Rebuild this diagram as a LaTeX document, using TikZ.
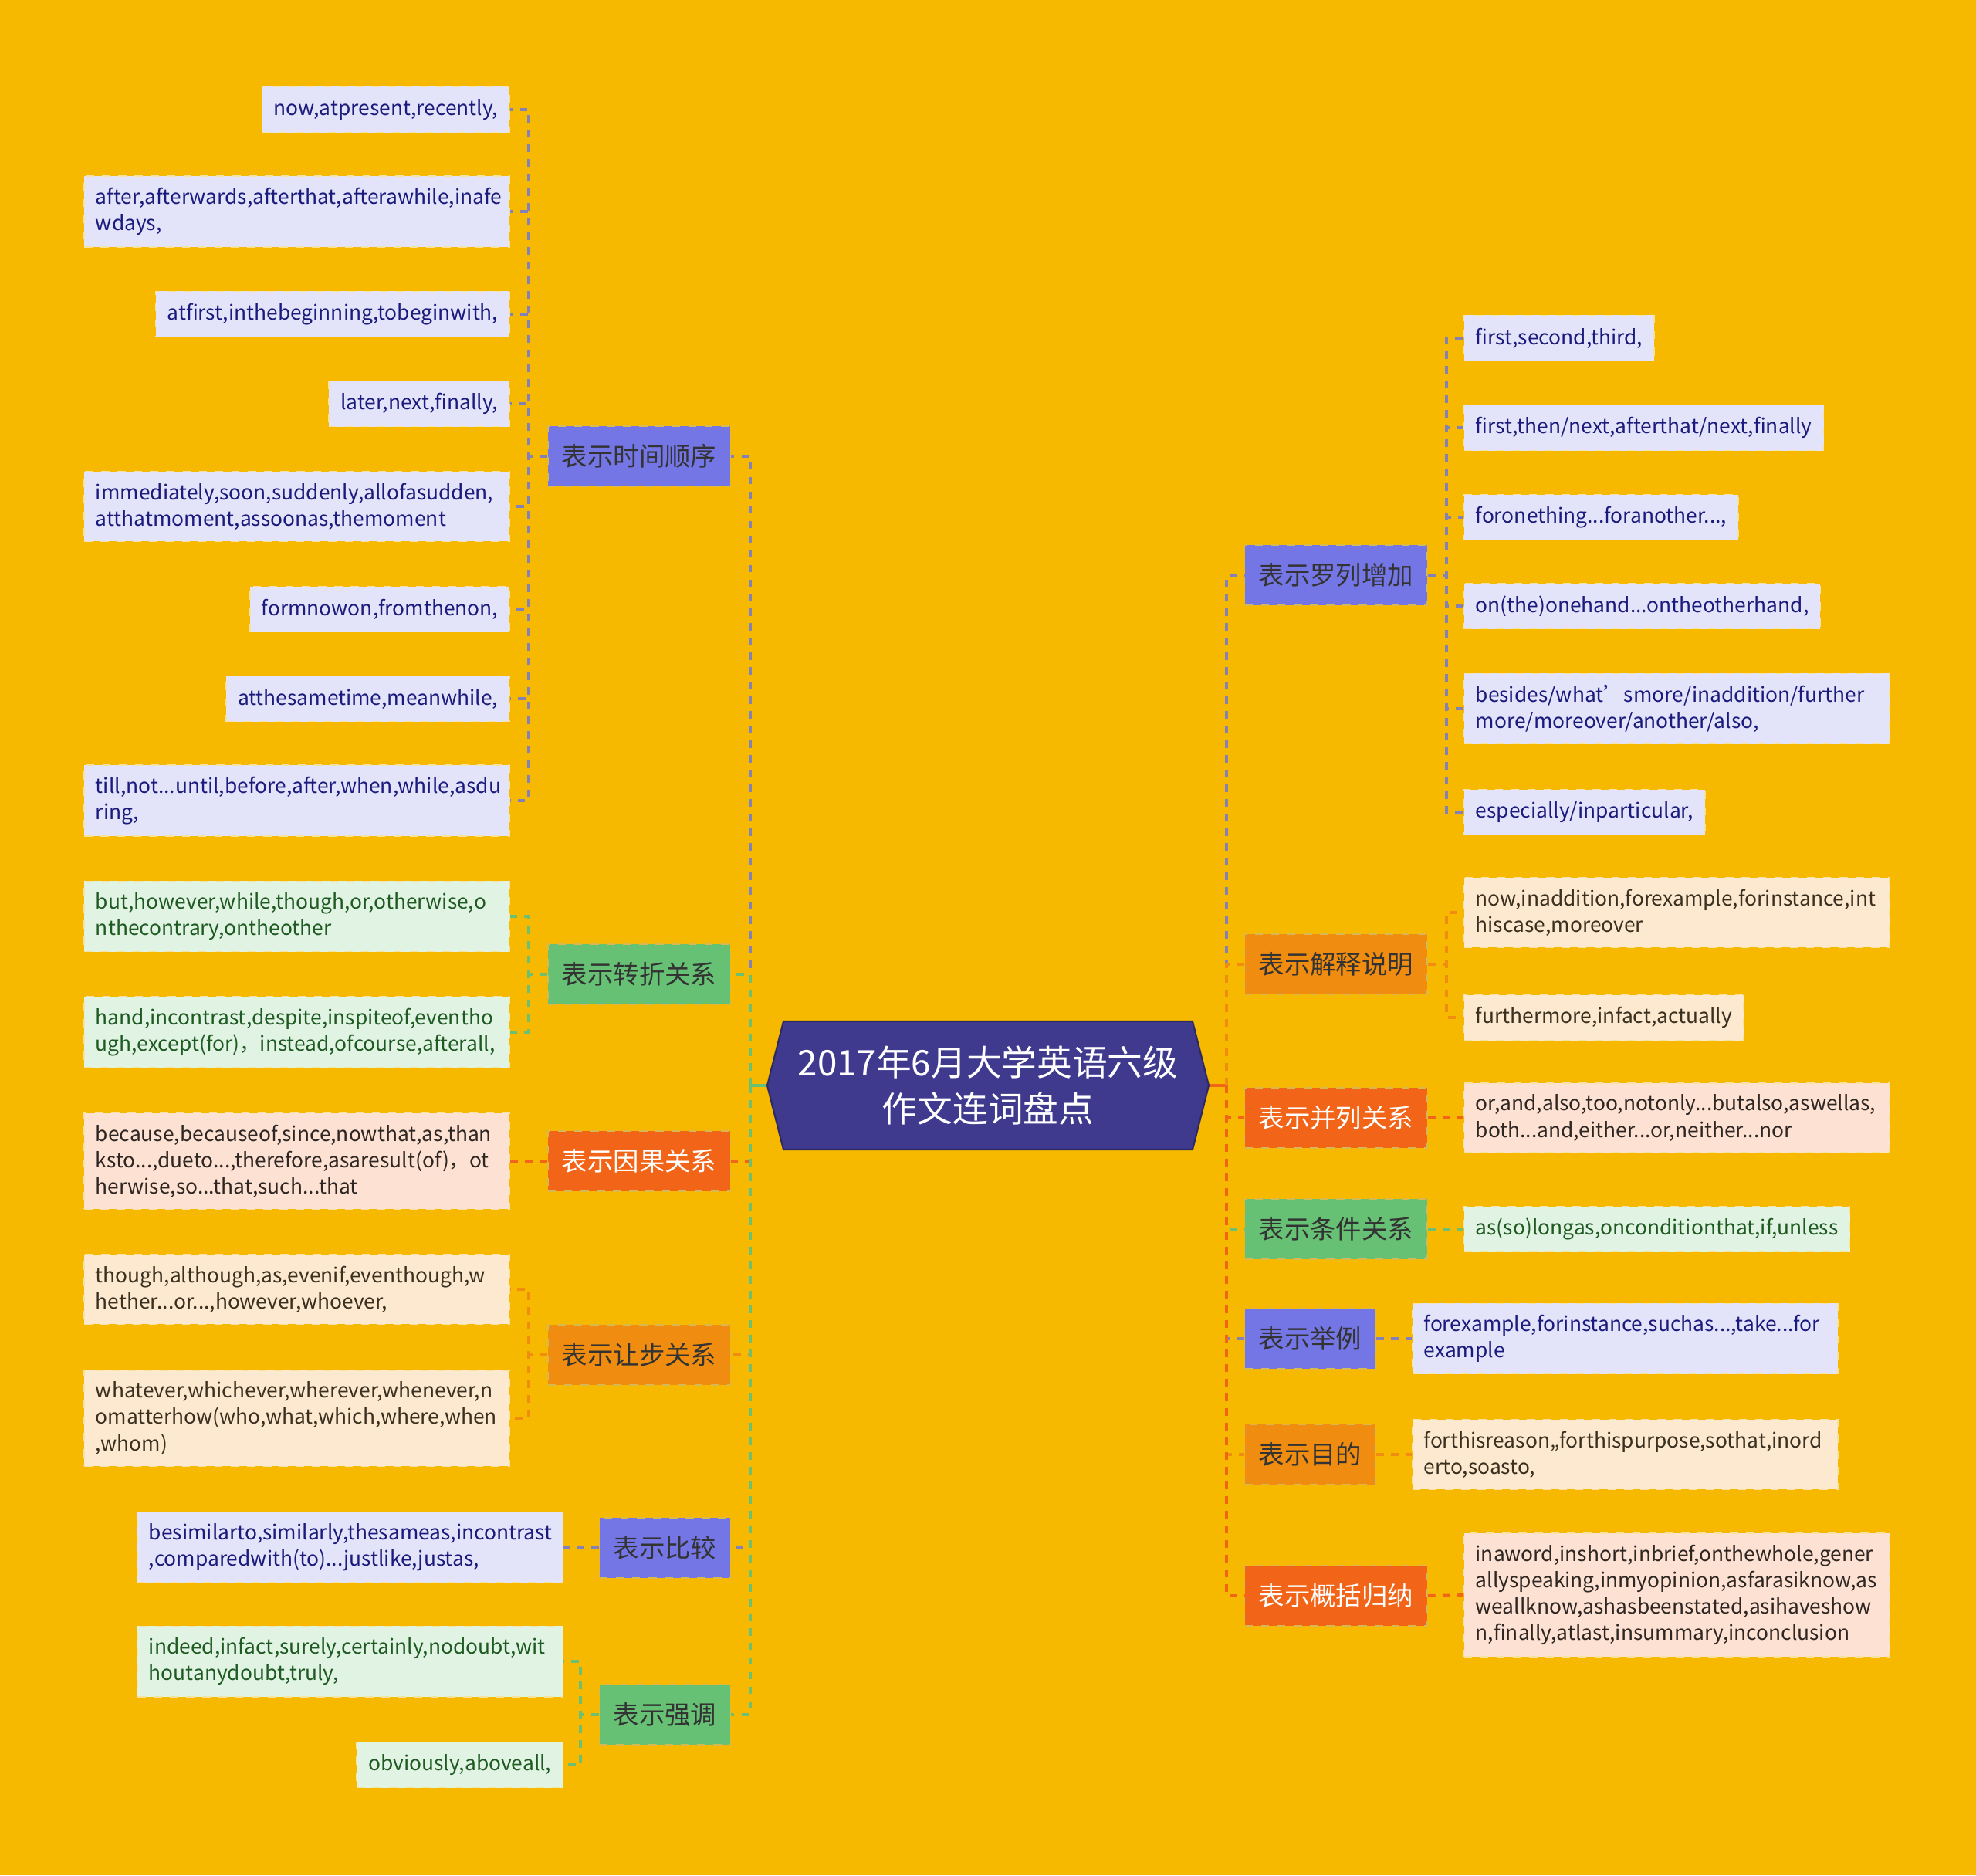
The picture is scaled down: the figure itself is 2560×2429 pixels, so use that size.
\documentclass[tikz,border=0pt]{standalone}
\usepackage{fontspec}
\setmainfont{Noto Sans CJK SC}
\usetikzlibrary{positioning}
\hyphenpenalty=10000
\exhyphenpenalty=10000

\definecolor{bgyellow}{HTML}{F6B900}
\definecolor{rootfill}{HTML}{3F3A8E}
\definecolor{rootline}{HTML}{2C2A60}
\definecolor{topicink}{HTML}{333333}
\definecolor{topicline}{HTML}{D8B850}
\definecolor{leafline}{HTML}{F7E3A1}
% purple branch
\definecolor{lilac}{HTML}{7476E6}
\definecolor{leafLilac}{HTML}{E3E4FA}
\definecolor{inkLilac}{HTML}{1B1B7D}
\definecolor{lineLilac}{HTML}{8282B8}
% green branch
\definecolor{mint}{HTML}{66C175}
\definecolor{leafMint}{HTML}{E1F4E4}
\definecolor{inkMint}{HTML}{1F5A22}
\definecolor{lineMint}{HTML}{6DBF72}
% red branch
\definecolor{flame}{HTML}{F26418}
\definecolor{leafFlame}{HTML}{FDE1D3}
\definecolor{inkFlame}{HTML}{2E2622}
% orange branch
\definecolor{amber}{HTML}{F08C10}
\definecolor{leafAmber}{HTML}{FDE9CF}
\definecolor{inkAmber}{HTML}{3A3020}

\begin{document}
\begin{tikzpicture}[
    x=0.01cm, y=-0.01cm,
    topic/.style={fill=#1, draw=topicline, dashed, line width=0.4pt, minimum height=0.78cm,
      inner xsep=0.18cm, font=\fontsize{9.5}{11}\selectfont, text=topicink},
    ptopic/.style={topic=lilac},
    gtopic/.style={topic=mint},
    rtopic/.style={topic=flame, text=white},
    otopic/.style={topic=amber},
    leaf/.style={fill=#1, draw=leafline, dashed, line width=0.4pt, minimum height=0.59cm,
      inner xsep=0.15cm, inner ysep=0.15cm, font=\fontsize{7.5}{9.7}\selectfont},
    pleaf/.style={leaf=leafLilac, text=inkLilac},
    gleaf/.style={leaf=leafMint, text=inkMint},
    rleaf/.style={leaf=leafFlame, text=inkFlame},
    oleaf/.style={leaf=leafAmber, text=inkAmber},
    wide/.style={text width=5.21cm, align=left},
    link/.style={draw=#1, line width=1.1pt, dash pattern=on 2.8pt off 2.6pt},
    stem/.style={draw=#1, line width=1.1pt}
  ]
  \useasboundingbox (0,0) rectangle (2560,2429);
  \fill[bgyellow] (0,0) rectangle (2560,2429);

  % Root
  \filldraw[fill=rootfill, draw=rootline, line width=0.6pt]
    (994,1406) -- (1015,1323) -- (1545,1323) -- (1566,1406) -- (1545,1489) -- (1015,1489) -- cycle;
  \node (root) at (1280,1406) [minimum width=5.72cm, minimum height=1.66cm, align=center,
    text=white, font=\fontsize{13}{17}\selectfont] {2017年6月大学英语六级\\作文连词盘点};
  \coordinate (lt) at (972,1406);
  \coordinate (rt) at (1589,1406);

  % Left topics
  \node (time)   [ptopic, anchor=east] at (947,591)  {表示时间顺序};
  \node (turn)   [gtopic, anchor=east] at (947,1262) {表示转折关系};
  \node (cause)  [rtopic, anchor=east] at (947,1504) {表示因果关系};
  \node (yield)  [otopic, anchor=east] at (947,1755) {表示让步关系};
  \node (compar) [ptopic, anchor=east] at (947,2005) {表示比较};
  \node (stress) [gtopic, anchor=east] at (947,2221) {表示强调};

  % Right topics
  \node (list)    [ptopic, anchor=west] at (1612,745)  {表示罗列增加};
  \node (explain) [otopic, anchor=west] at (1612,1249) {表示解释说明};
  \node (paral)   [rtopic, anchor=west] at (1612,1448) {表示并列关系};
  \node (cond)    [gtopic, anchor=west] at (1612,1592) {表示条件关系};
  \node (examp)   [ptopic, anchor=west] at (1612,1734) {表示举例};
  \node (purp)    [otopic, anchor=west] at (1612,1884) {表示目的};
  \node (summ)    [rtopic, anchor=west] at (1612,2067) {表示概括归纳};

  % Time leaves
  \node (t1) [pleaf, anchor=east] at (661,142)  {now,atpresent,recently,};
  \node (t2) [pleaf, wide, anchor=east] at (661,274) {after,afterwards,afterthat,afterawhile,inafe\\wdays,};
  \node (t3) [pleaf, anchor=east] at (661,407)  {atfirst,inthebeginning,tobeginwith,};
  \node (t4) [pleaf, anchor=east] at (661,523)  {later,next,finally,};
  \node (t5) [pleaf, wide, anchor=east] at (661,656) {immediately,soon,suddenly,allofasudden,\\atthatmoment,assoonas,themoment};
  \node (t6) [pleaf, anchor=east] at (661,789)  {formnowon,fromthenon,};
  \node (t7) [pleaf, anchor=east] at (661,905)  {atthesametime,meanwhile,};
  \node (t8) [pleaf, wide, anchor=east] at (661,1037) {till,not...until,before,after,when,while,asdu\\ring,};

  % Turn leaves
  \node (c1) [gleaf, wide, anchor=east] at (661,1187) {but,however,while,though,or,otherwise,o\\nthecontrary,ontheother};
  \node (c2) [gleaf, wide, anchor=east] at (661,1337) {hand,incontrast,despite,inspiteof,eventho\\ugh,except(for)，instead,ofcourse,afterall,};

  % Cause leaf
  \node (r1) [rleaf, wide, anchor=east] at (661,1504) {because,becauseof,since,nowthat,as,than\\ksto...,dueto...,therefore,asaresult(of)，ot\\herwise,so...that,such...that};

  % Concession leaves
  \node (o1) [oleaf, wide, anchor=east] at (661,1670) {though,although,as,evenif,eventhough,w\\hether...or...,however,whoever,};
  \node (o2) [oleaf, wide, anchor=east] at (661,1837) {whatever,whichever,wherever,whenever,n\\omatterhow(who,what,which,where,when\\,whom)};

  % Compare and stress leaves
  \node (m1) [pleaf, wide, anchor=east] at (730,2004) {besimilarto,similarly,thesameas,incontrast\\,comparedwith(to)...justlike,justas,};
  \node (e1) [gleaf, wide, anchor=east] at (730,2152) {indeed,infact,surely,certainly,nodoubt,wit\\houtanydoubt,truly,};
  \node (e2) [gleaf, anchor=east] at (730,2286) {obviously,aboveall,};

  % List leaves
  \node (l1) [pleaf, anchor=west] at (1896,438)  {first,second,third,};
  \node (l2) [pleaf, anchor=west] at (1896,554)  {first,then/next,afterthat/next,finally};
  \node (l3) [pleaf, anchor=west] at (1896,670)  {foronething...foranother...,};
  \node (l4) [pleaf, anchor=west] at (1896,785)  {on(the)onehand...ontheotherhand,};
  \node (l5) [pleaf, wide, anchor=west] at (1896,918) {besides/what’smore/inaddition/further\\more/moreover/another/also,};
  \node (l6) [pleaf, anchor=west] at (1896,1052) {especially/inparticular,};

  % Explain leaves
  \node (x1) [oleaf, wide, anchor=west] at (1896,1182) {now,inaddition,forexample,forinstance,int\\hiscase,moreover};
  \node (x2) [oleaf, anchor=west] at (1896,1318) {furthermore,infact,actually};

  % Single leaves
  \node (p1) [rleaf, wide, anchor=west] at (1896,1448) {or,and,also,too,notonly...butalso,aswellas,\\both...and,either...or,neither...nor};
  \node (k1) [gleaf, anchor=west] at (1896,1592) {as(so)longas,onconditionthat,if,unless};
  \node (q1) [pleaf, wide, anchor=west] at (1829,1734) {forexample,forinstance,suchas...,take...for\\example};
  \node (u1) [oleaf, wide, anchor=west] at (1829,1884) {forthisreason,,forthispurpose,sothat,inord\\erto,soasto,};
  \node (s1) [rleaf, wide, anchor=west] at (1896,2066) {inaword,inshort,inbrief,onthewhole,gener\\allyspeaking,inmyopinion,asfarasiknow,as\\weallknow,ashasbeenstated,asihaveshow\\n,finally,atlast,insummary,inconclusion};

  % Left trunk
  \draw[stem=mint] (root.west) -- (lt);
  \draw[link=lineLilac] (lt) |- (time.east);
  \draw[link=lineMint] (lt) |- (turn.east);
  \draw[link=flame] (lt) |- (cause.east);
  \draw[link=amber] (lt) |- (yield.east);
  \draw[link=lineLilac] (lt) |- (compar.east);
  \draw[link=lineMint] (lt) |- (stress.east);

  % Right trunk
  \draw[stem=flame] (root.east) -- (rt);
  \draw[link=lineLilac] (rt) |- (list.west);
  \draw[link=amber] (rt) |- (explain.west);
  \draw[link=flame] (rt) |- (paral.west);
  \draw[link=lineMint] (rt) |- (cond.west);
  \draw[link=lineLilac] (rt) |- (examp.west);
  \draw[link=amber] (rt) |- (purp.west);
  \draw[link=flame] (rt) |- (summ.west);

  % Time brackets
  \draw[link=lineLilac] (time.west) -- ++(-24,0) |- (t1.east);
  \draw[link=lineLilac] (time.west) -- ++(-24,0) |- (t2.east);
  \draw[link=lineLilac] (time.west) -- ++(-24,0) |- (t3.east);
  \draw[link=lineLilac] (time.west) -- ++(-24,0) |- (t4.east);
  \draw[link=lineLilac] (time.west) -- ++(-24,0) |- (t5.east);
  \draw[link=lineLilac] (time.west) -- ++(-24,0) |- (t6.east);
  \draw[link=lineLilac] (time.west) -- ++(-24,0) |- (t7.east);
  \draw[link=lineLilac] (time.west) -- ++(-24,0) |- (t8.east);

  % Turn, cause, concession
  \draw[link=lineMint] (turn.west) -- ++(-24,0) |- (c1.east);
  \draw[link=lineMint] (turn.west) -- ++(-24,0) |- (c2.east);
  \draw[link=flame] (cause.west) -- (r1.east);
  \draw[link=amber] (yield.west) -- ++(-24,0) |- (o1.east);
  \draw[link=amber] (yield.west) -- ++(-24,0) |- (o2.east);

  % Compare, stress
  \draw[link=lineLilac] (compar.west) -- (m1.east);
  \draw[link=lineMint] (stress.west) -- ++(-24,0) |- (e1.east);
  \draw[link=lineMint] (stress.west) -- ++(-24,0) |- (e2.east);

  % List brackets
  \draw[link=lineLilac] (list.east) -- ++(24,0) |- (l1.west);
  \draw[link=lineLilac] (list.east) -- ++(24,0) |- (l2.west);
  \draw[link=lineLilac] (list.east) -- ++(24,0) |- (l3.west);
  \draw[link=lineLilac] (list.east) -- ++(24,0) |- (l4.west);
  \draw[link=lineLilac] (list.east) -- ++(24,0) |- (l5.west);
  \draw[link=lineLilac] (list.east) -- ++(24,0) |- (l6.west);

  % Explain bracket and single links
  \draw[link=amber] (explain.east) -- ++(24,0) |- (x1.west);
  \draw[link=amber] (explain.east) -- ++(24,0) |- (x2.west);
  \draw[link=flame] (paral.east) -- (p1.west);
  \draw[link=lineMint] (cond.east) -- (k1.west);
  \draw[link=lineLilac] (examp.east) -- (q1.west);
  \draw[link=amber] (purp.east) -- (u1.west);
  \draw[link=flame] (summ.east) -- (s1.west);
\end{tikzpicture}
\end{document}
